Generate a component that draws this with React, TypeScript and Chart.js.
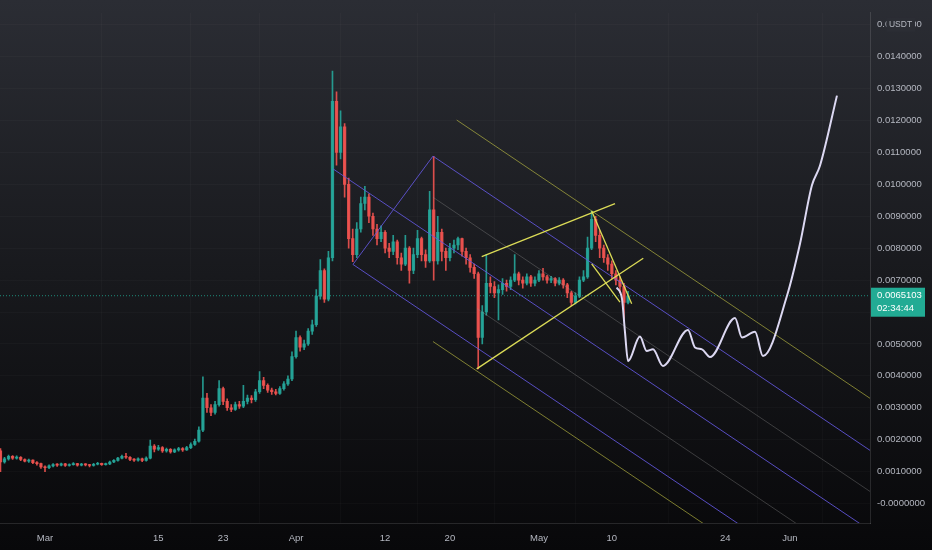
import { useEffect, useRef } from "react";
import Chart from "chart.js/auto";

// 12h candles, days counted from Mar 1, prices in thousandths of USDT
const firstDay = -5.5;
const candleStep = 0.5;
const firstOpen = 1.65;

const closes = [
  1.30, 1.40, 1.48, 1.42, 1.45, 1.38, 1.33, 1.36, 1.28, 1.25, 1.15, 1.12,
  1.18, 1.22, 1.20, 1.24, 1.19, 1.22, 1.25, 1.20, 1.23, 1.21, 1.19, 1.23, 1.26, 1.22, 1.24,
  1.30, 1.35, 1.42, 1.48, 1.45, 1.38, 1.36, 1.40, 1.35, 1.42,
  1.80, 1.70, 1.75, 1.65, 1.70, 1.62, 1.68, 1.72, 1.68, 1.75, 1.85,
  1.95, 2.30, 3.30, 3.00, 2.85, 3.10, 3.60, 3.20, 3.00, 2.95, 3.10, 3.05, 3.20, 3.30,
  3.25, 3.50, 3.85, 3.70, 3.55, 3.50, 3.45, 3.60, 3.75, 3.90,
  4.60, 5.20, 4.90, 5.00, 5.40, 5.60, 6.50, 7.30, 6.40, 7.70,
  12.60, 11.00, 11.80, 10.00, 8.30, 7.80, 8.60, 9.40, 9.60, 9.00,
  8.60, 8.30, 8.50, 8.00, 7.90, 8.20, 7.70, 7.50, 8.00, 7.30,
  7.80, 8.30, 7.80, 7.60, 9.20, 7.60, 8.50, 7.90, 7.70, 8.00,
  8.10, 8.30, 7.90, 7.70, 7.40, 7.20, 5.20, 6.00, 6.90, 6.80,
  6.60, 6.70, 6.90, 6.80, 7.00, 7.20, 7.00, 6.90, 7.10, 6.90,
  7.00, 7.20, 7.10, 7.00, 7.05, 6.90, 7.00, 6.85, 6.60, 6.30,
  6.50, 7.00, 7.10, 8.00, 8.90, 8.40, 8.00, 7.70, 7.50, 7.20,
  7.00, 6.80, 6.30, 6.51,
];

const highs = [
  1.72, 1.45, 1.52, 1.50, 1.49, 1.47, 1.40, 1.39, 1.37, 1.31, 1.27, 1.18,
  1.21, 1.25, 1.25, 1.27, 1.26, 1.24, 1.28, 1.26, 1.26, 1.25, 1.23, 1.26, 1.29, 1.27, 1.27,
  1.33, 1.38, 1.45, 1.52, 1.57, 1.47, 1.41, 1.43, 1.42, 1.46,
  1.99, 1.85, 1.82, 1.78, 1.74, 1.72, 1.71, 1.76, 1.75, 1.79, 1.90,
  2.02, 2.40, 3.97, 3.45, 3.10, 3.20, 3.85, 3.65, 3.28, 3.10, 3.18, 3.20, 3.70, 3.40,
  3.38, 3.58, 4.13, 3.95, 3.75, 3.62, 3.58, 3.66, 3.82, 4.00,
  4.75, 5.40, 5.25, 5.12, 5.48, 5.75, 6.70, 7.64, 7.35, 7.90,
  13.55, 12.90, 12.30, 11.90, 10.20, 8.60, 8.80, 9.60, 9.94, 9.70,
  9.10, 8.75, 8.70, 8.55, 8.15, 8.40, 8.25, 7.85, 8.40, 8.05,
  8.00, 8.56, 8.35, 7.95, 9.78, 10.88, 9.00, 8.60, 8.00, 8.15,
  8.25, 8.35, 8.32, 8.00, 7.80, 7.50, 7.25, 6.20, 7.80, 7.10,
  6.95, 6.85, 7.05, 7.00, 7.10, 7.80, 7.25, 7.10, 7.20, 7.15,
  7.10, 7.30, 7.37, 7.15, 7.12, 7.08, 7.08, 7.05, 6.90, 6.65,
  6.60, 7.10, 7.30, 8.35, 9.16, 9.00, 8.55, 8.10, 7.80, 7.60,
  7.30, 7.10, 6.90, 6.65,
];

const lows = [
  1.00, 1.26, 1.36, 1.38, 1.39, 1.34, 1.30, 1.29, 1.25, 1.20, 1.10, 1.00,
  1.09, 1.15, 1.16, 1.18, 1.16, 1.17, 1.20, 1.17, 1.18, 1.18, 1.15, 1.17, 1.21, 1.19, 1.20,
  1.22, 1.28, 1.33, 1.40, 1.41, 1.34, 1.32, 1.33, 1.31, 1.33,
  1.40, 1.62, 1.66, 1.60, 1.61, 1.58, 1.59, 1.64, 1.63, 1.66, 1.72,
  1.82, 1.92, 2.25, 2.85, 2.75, 2.80, 3.05, 3.10, 2.92, 2.88, 2.92, 2.98, 3.00, 3.12,
  3.15, 3.20, 3.45, 3.60, 3.48, 3.42, 3.40, 3.42, 3.55, 3.70,
  3.85, 4.55, 4.77, 4.82, 4.95, 5.30, 5.55, 6.40, 6.30, 6.35,
  7.60, 10.60, 10.80, 9.60, 8.00, 7.58, 7.70, 8.50, 9.20, 8.80,
  8.40, 8.10, 8.20, 7.85, 7.70, 7.80, 7.50, 7.30, 7.45, 6.90,
  7.20, 7.70, 7.60, 7.40, 7.55, 7.00, 7.50, 7.60, 7.30, 7.60,
  7.85, 7.95, 7.75, 7.50, 7.25, 7.05, 4.22, 5.00, 5.90, 6.60,
  6.45, 5.75, 6.55, 6.65, 6.70, 6.95, 6.85, 6.75, 6.85, 6.80,
  6.82, 6.95, 7.00, 6.90, 6.92, 6.82, 6.85, 6.75, 6.45, 6.20,
  6.25, 6.45, 6.95, 7.05, 7.95, 8.20, 7.70, 7.55, 7.30, 7.05,
  6.85, 6.60, 5.80, 6.25,
];

const lastPrice = 6.5103;
const lastPriceLabel = "0.0065103";
const countdownLabel = "02:34:44";

// hand-drawn projection (brush), [day, price]
const projectionDays = [70.6, 71.25, 71.62, 72.0, 73.47, 74.3, 75.08, 76.31, 79.4, 80.27, 81.13, 82.12, 85.21, 86.07, 87.68, 88.66, 91.63, 93.23, 94.71, 95.7, 97.8];
const projectionPrices = [6.77, 6.42, 5.38, 4.46, 5.23, 4.78, 4.83, 4.31, 5.44, 4.89, 4.83, 4.59, 5.81, 5.2, 5.38, 4.62, 6.51, 8.13, 9.97, 10.58, 12.78];

// drawing segments [day1, price1, day2, price2]
const pitchforkTines = [
  [35.56, 10.486, 110, -2.23],
  [47.91, 10.884, 110, 0.278],
  [38.03, 7.49, 110, -4.8],
  [38.03, 7.49, 47.91, 10.884],
];
const pitchforkLevels = [
  [47.91, 9.596, 110, -1.01],
  [53.35, 6.108, 110, -3.569],
];
const outerChannel = [
  [50.84, 12.015, 110, 1.909],
  [47.91, 5.075, 110, -5.53],
];
const wedgeLines = [
  [53.31, 4.219, 73.88, 7.683],
  [53.93, 7.735, 70.39, 9.395],
  [67.51, 9.162, 72.45, 6.258],
  [67.51, 7.511, 71.0, 6.307],
];

const xTickDays = [0, 14, 22, 31, 42, 50, 61, 70, 84, 92];
const xTickLabels = ["Mar", "15", "23", "Apr", "12", "20", "May", "10", "24", "Jun"];
const yTickValues = [0, 1, 2, 3, 4, 5, 6, 7, 8, 9, 10, 11, 12, 13, 14, 15];
const yTickLabels = [
  "-0.0000000", "0.0010000", "0.0020000", "0.0030000", "0.0040000", "0.0050000",
  "0.0060000", "0.0070000", "0.0080000", "0.0090000", "0.0100000", "0.0110000",
  "0.0120000", "0.0130000", "0.0140000", "0.0150000",
];

const UP = "rgba(38,166,154,0.9)";
const DOWN = "rgba(239,83,80,0.9)";
const TEXT = "#b4b7c0";
const FONT = "'Liberation Sans', Arial, sans-serif";
const FONT_SIZE = 9.5;

const segment = (s: number[], color: string, width: number) => ({
  type: "line" as const,
  data: [
    { x: s[0], y: s[1] },
    { x: s[2], y: s[3] },
  ],
  borderColor: color,
  borderWidth: width,
  pointRadius: 0,
  tension: 0,
  order: 1,
});

const overlay = {
  id: "overlay",
  afterDraw(chart: any) {
    const { ctx, chartArea } = chart;
    const y = chart.scales.y;
    const py = y.getPixelForValue(lastPrice);
    ctx.save();
    ctx.font = `${FONT_SIZE}px ${FONT}`;
    ctx.textBaseline = "middle";
    // last price tag
    ctx.fillStyle = "#22ab94";
    ctx.fillRect(chartArea.right + 1, py - 8, 54, 29);
    ctx.fillStyle = "#ffffff";
    ctx.fillText(lastPriceLabel, chartArea.right + 7, py);
    ctx.fillText(countdownLabel, chartArea.right + 7, py + 13);
    // currency tag over the top tick
    const ty = y.getPixelForValue(15);
    ctx.fillStyle = "#2b2d34";
    ctx.fillRect(chartArea.right + 16.5, ty - 7, 28.5, 14);
    ctx.fillStyle = TEXT;
    ctx.font = `8.5px ${FONT}`;
    ctx.textAlign = "center";
    ctx.fillText("USDT", chartArea.right + 30.5, ty);
    ctx.restore();
  },
};

const App = () => {
  const canvasRef = useRef<HTMLCanvasElement | null>(null);
  const chartRef = useRef<Chart | null>(null);

  useEffect(() => {
    document.body.style.margin = "0";
    if (!canvasRef.current) return;
    if (chartRef.current) chartRef.current.destroy();

    // each candle opens at the previous close
    const opens = closes.map((_, i) => (i === 0 ? firstOpen : closes[i - 1]));
    const days = closes.map((_, i) => firstDay + i * candleStep);
    const colors = closes.map((c, i) => (c >= opens[i] ? UP : DOWN));

    chartRef.current = new Chart(canvasRef.current, {
      type: "bar",
      data: {
        datasets: [
          {
            type: "line",
            data: projectionDays.map((d, i) => ({ x: d, y: projectionPrices[i] })),
            borderColor: "#dcd8f2",
            borderWidth: 2,
            pointRadius: 0,
            cubicInterpolationMode: "monotone",
            order: 0,
          },
          ...wedgeLines.map((s) => segment(s, "rgba(230,230,90,0.95)", 1.3)),
          ...pitchforkTines.map((s) => segment(s, "rgba(100,88,225,0.85)", 1)),
          ...pitchforkLevels.map((s) => segment(s, "rgba(150,150,150,0.35)", 1)),
          ...outerChannel.map((s) => segment(s, "rgba(200,200,70,0.6)", 1)),
          {
            type: "line",
            data: [
              { x: -10, y: lastPrice },
              { x: 110, y: lastPrice },
            ],
            borderColor: "rgba(34,171,148,0.8)",
            borderWidth: 1,
            borderDash: [1, 2],
            pointRadius: 0,
            order: 12,
          },
          {
            type: "bar",
            data: days.map((d, i) => ({ x: d, y: [lows[i], highs[i]] })),
            backgroundColor: colors,
            barThickness: 1,
            grouped: false,
            borderWidth: 0,
            order: 11,
          },
          {
            type: "bar",
            data: days.map((d, i) => ({ x: d, y: [opens[i], closes[i]] })),
            backgroundColor: colors,
            barThickness: 2.6,
            minBarLength: 1,
            grouped: false,
            borderWidth: 0,
            order: 10,
          },
        ] as any,
      },
      options: {
        responsive: true,
        maintainAspectRatio: false,
        animation: false,
        events: [],
        layout: { padding: 0 },
        plugins: { legend: { display: false }, tooltip: { enabled: false } },
        scales: {
          x: {
            type: "linear",
            min: -5.557,
            max: 101.88,
            offset: false,
            grid: { color: "rgba(255,255,255,0.025)", drawTicks: false },
            border: { color: "rgba(255,255,255,0.12)" },
            ticks: {
              color: TEXT,
              font: { family: FONT, size: FONT_SIZE },
              padding: 10,
              autoSkip: false,
              maxRotation: 0,
              callback: (v: any) => xTickLabels[xTickDays.indexOf(Number(v))] ?? "",
            },
            afterBuildTicks: (s: any) => {
              s.ticks = xTickDays.map((v) => ({ value: v }));
            },
            afterFit: (s: any) => {
              s.height = 27;
            },
          },
          y: {
            position: "right",
            min: -0.611,
            max: 15.378,
            grid: { color: "rgba(255,255,255,0.025)", drawTicks: false },
            border: { color: "rgba(255,255,255,0.12)" },
            ticks: {
              color: TEXT,
              font: { family: FONT, size: FONT_SIZE },
              padding: 7,
              callback: (v: any) => yTickLabels[yTickValues.indexOf(Number(v))] ?? "",
            },
            afterBuildTicks: (s: any) => {
              s.ticks = yTickValues.map((v) => ({ value: v }));
            },
            afterFit: (s: any) => {
              s.width = 62;
            },
          },
        },
      },
      plugins: [overlay],
    });

    return () => {
      if (chartRef.current) {
        chartRef.current.destroy();
        chartRef.current = null;
      }
    };
  }, []);

  return (
    <div
      style={{
        width: 932,
        height: 550,
        position: "relative",
        background: "linear-gradient(180deg, #2b2d34 0%, #18191d 50%, #08080a 100%)",
      }}
    >
      <canvas ref={canvasRef}></canvas>
    </div>
  );
};

export default App;
